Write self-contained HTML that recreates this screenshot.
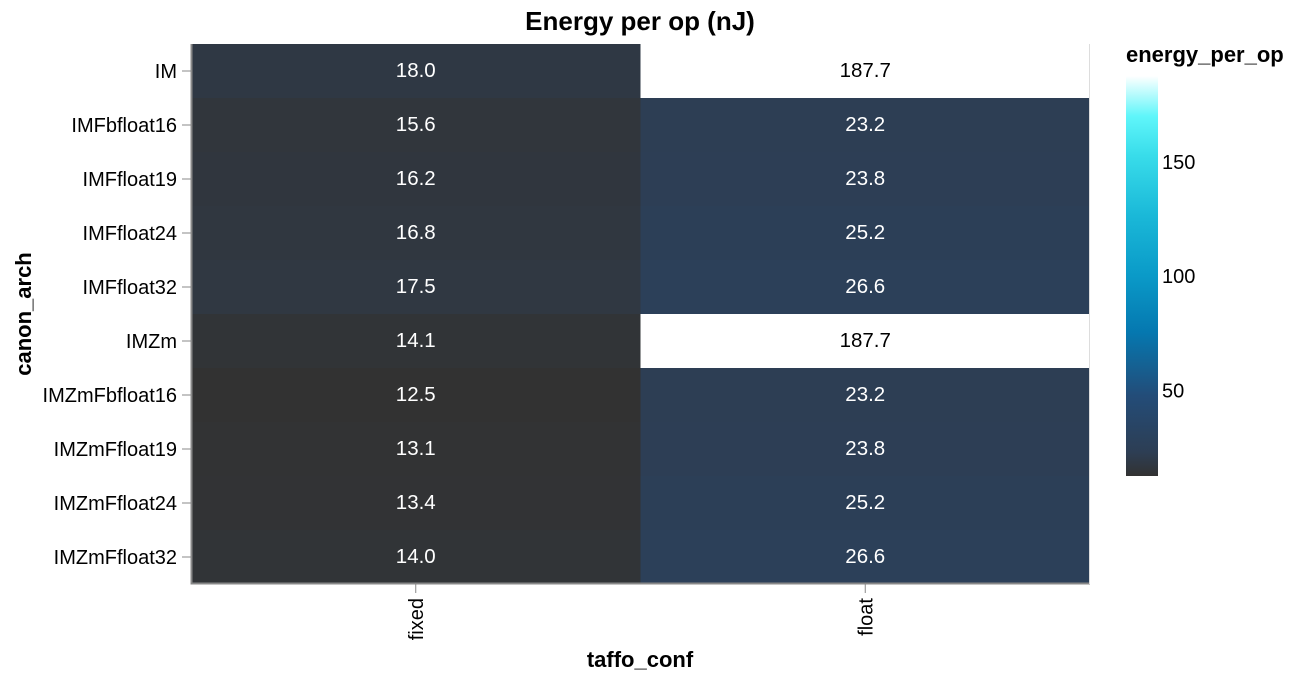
<!DOCTYPE html>
<html><head><meta charset="utf-8"><style>
body{margin:0;background:#fff;font-family:"Liberation Sans",sans-serif;}
svg text{font-family:"Liberation Sans",sans-serif;}
</style></head><body>
<svg id="c" width="1294" height="682" xmlns="http://www.w3.org/2000/svg">
<defs><linearGradient id="lg" x1="0" y1="1" x2="0" y2="0">
<stop offset="0" stop-color="#323232"/><stop offset="0.06" stop-color="#2d3e54"/><stop offset="0.2" stop-color="#234c78"/><stop offset="0.36" stop-color="#0578b0"/><stop offset="0.5" stop-color="#0a9ac8"/><stop offset="0.65" stop-color="#1ab8d8"/><stop offset="0.8" stop-color="#38dcea"/><stop offset="0.9" stop-color="#60f6fa"/><stop offset="1" stop-color="#ffffff"/>
</linearGradient></defs>
<text x="640" y="30" text-anchor="middle" font-size="26" font-weight="bold">Energy per op (nJ)</text>
<g id="cells"></g>
<g id="axes"></g>
<text x="640" y="667" text-anchor="middle" font-size="22" font-weight="bold">taffo_conf</text>
<text transform="translate(31,314) rotate(-90)" text-anchor="middle" font-size="22" font-weight="bold">canon_arch</text>
<text x="1126" y="62" font-size="22" font-weight="bold">energy_per_op</text>
<rect x="1126" y="76" width="32" height="400" fill="url(#lg)"/>
<g id="leg"></g>
</svg>
<script>
const rows=["IM","IMFbfloat16","IMFfloat19","IMFfloat24","IMFfloat32","IMZm","IMZmFbfloat16","IMZmFfloat19","IMZmFfloat24","IMZmFfloat32"];
const cols=["fixed","float"];
const fixedVals=[18.0,15.6,16.2,16.8,17.5,14.1,12.5,13.1,13.4,14.0];
const floatVals=[187.7,23.2,23.8,25.2,26.6,187.7,23.2,23.8,25.2,26.6];
const legendTicks=[50,100,150];
const NS="http://www.w3.org/2000/svg";
const X0=191,X1=1090,Y0=44,Y1=584;
const all=fixedVals.concat(floatVals);
const vmin=Math.min(...all),vmax=Math.max(...all);
const bw=(X1-X0)/cols.length,bh=(Y1-Y0)/rows.length;
const xs=i=>X0+i*bw, ys=i=>Y0+i*bh;
const stops=[[0,[50,50,50]],[0.06,[45,62,84]],[0.2,[35,76,120]],[0.36,[5,120,176]],[0.5,[10,154,200]],[0.65,[26,184,216]],[0.8,[56,220,234]],[0.9,[96,246,250]],[1,[255,255,255]]];
function color(v){let t=(v-vmin)/(vmax-vmin);t=Math.max(0,Math.min(1,t));
for(let i=1;i<stops.length;i++){if(t<=stops[i][0]){const a=stops[i-1],b=stops[i];const f=(t-a[0])/(b[0]-a[0]);
const c=a[1].map((x,k)=>Math.round(x+(b[1][k]-x)*f));return `rgb(${c})`;}}return "#fff";}
function mk(tag,attrs,p){const e=document.createElementNS(NS,tag);for(const k in attrs)e.setAttribute(k,attrs[k]);p.appendChild(e);return e;}
const cg=document.getElementById('cells'),ag=document.getElementById('axes'),lg=document.getElementById('leg');
const series=[fixedVals,floatVals];
series.forEach((vals,ci)=>{vals.forEach((v,ri)=>{
const r=mk('rect',{x:xs(ci),y:ys(ri),width:bw,height:bh,fill:color(v)},cg);


const t=mk('text',{x:xs(ci)+bw/2,y:ys(ri)+bh/2+6,'text-anchor':'middle','font-size':20.5,fill:(v-vmin)/(vmax-vmin)>0.5?'#000':'#fff'},cg);
t.textContent=v.toFixed(1);


});});
const d=mk('path',{d:`M${X0+0.5},${Y0}V${Y1-0.5}H${X1}`,stroke:'#888',fill:'none','stroke-width':2},ag);


mk('line',{x1:X1-0.5,y1:Y0,x2:X1-0.5,y2:Y1,stroke:'#ddd'},ag);
rows.forEach((r,i)=>{const y=ys(i)+bh/2;
mk('line',{x1:X0-9,x2:X0,y1:y,y2:y,stroke:'#888'},ag);
const t=mk('text',{x:X0-14,y:y+7,'text-anchor':'end','font-size':20},ag);t.textContent=r;

});
cols.forEach((c,i)=>{const x=xs(i)+bw/2;
mk('line',{x1:x,x2:x,y1:Y1,y2:Y1+9,stroke:'#888'},ag);
const t=mk('text',{transform:`translate(${x+7},${Y1+14}) rotate(-90)`,'text-anchor':'end','font-size':20},ag);t.textContent=c;

});
const ly=v=>476-(v-vmin)/(vmax-vmin)*400;
legendTicks.forEach(v=>{const t=mk('text',{x:1162,y:ly(v)+7,'font-size':20},lg);t.textContent=v;

});
</script>
</body></html>
